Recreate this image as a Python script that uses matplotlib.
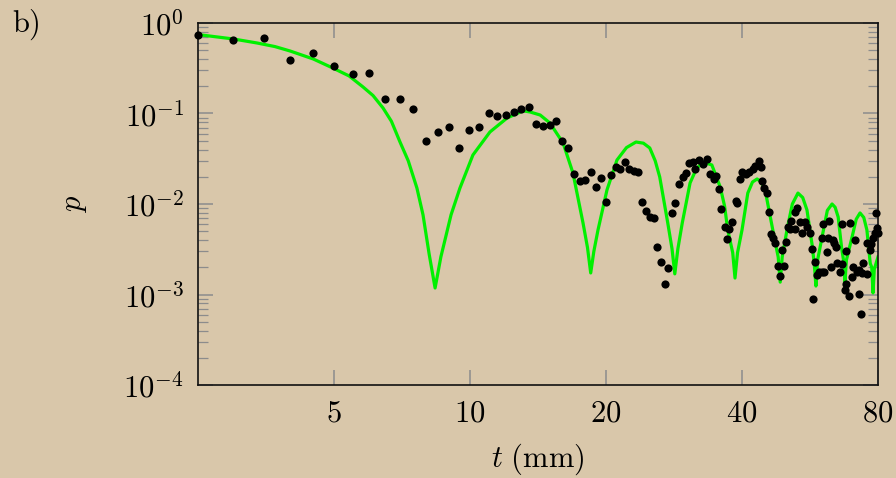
import numpy as np
import matplotlib
matplotlib.use("Agg")
import matplotlib.pyplot as plt
from matplotlib.ticker import FixedLocator, NullLocator, LogLocator

plt.rcParams["mathtext.fontset"] = "cm"

# measured points (t in mm, p)
t_meas = [2.5, 2.99, 3.50, 4.00, 4.50, 5.00, 5.50, 5.99, 6.50, 7.00, 7.49, 7.99,
          8.50, 8.99, 9.47, 9.96, 10.49, 11.0, 11.49, 12.0, 12.5, 13.0, 13.5,
          14.0, 14.5, 15.0, 15.5, 16.0, 16.5, 17.0, 17.5, 18.0, 18.5, 19.0,
          19.5, 20.0, 20.5, 21.0, 21.5, 22.0, 22.5, 23.1, 23.5, 24.0, 24.5,
          25.0, 25.5, 26.0, 26.5, 27.0, 27.5, 28.0, 28.5, 29.0, 29.6, 30.1,
          30.6, 31.2, 31.5, 32.1, 32.8, 33.5, 34.0, 34.6, 35.0, 35.5, 36.0,
          36.6, 37.1, 37.4, 38.0, 38.7, 39.0, 39.5, 40.1, 40.8, 41.5, 42.3,
          42.8, 43.6, 44.0, 44.4, 44.8, 45.5, 46.0, 46.4, 46.9, 47.4, 48.0,
          49.6, 48.6, 49.0, 50.1, 50.6, 51.1, 51.4, 52.4, 53.0, 52.4, 53.7,
          54.2, 55.1, 55.8, 56.6, 57.1, 58.0, 58.5, 59.3, 60.0, 60.7, 57.5,
          60.3, 62.4, 60.0, 62.1, 63.5, 64.0, 64.6, 61.6, 63.0, 65.0, 65.9,
          66.7, 66.5, 68.0, 69.4, 71.2, 68.0, 67.6, 69.0, 70.0, 70.6, 71.8,
          72.8, 74.2, 73.6, 75.5, 72.5, 73.4, 75.5, 76.8, 77.2, 77.9, 78.8,
          79.7, 79.2, 80.0]
p_meas = [0.742, 0.649, 0.678, 0.387, 0.470, 0.335, 0.275, 0.278, 0.1435, 0.1435,
          0.111, 0.050, 0.062, 0.0704, 0.0412, 0.0657, 0.0704, 0.1005, 0.0938,
          0.097, 0.104, 0.111, 0.119, 0.076, 0.0733, 0.0752, 0.082, 0.050,
          0.0416, 0.0216, 0.0178, 0.0184, 0.0226, 0.0155, 0.0195, 0.0106,
          0.0211, 0.0256, 0.0242, 0.0291, 0.0245, 0.0232, 0.0226, 0.0105,
          8.37e-3, 7.24e-3, 7.06e-3, 3.37e-3, 2.30e-3, 1.31e-3, 1.95e-3,
          8.0e-3, 0.0102, 0.0165, 0.0197, 0.0218, 0.0282, 0.0293, 0.0245,
          0.0306, 0.0277, 0.0312, 0.0213, 0.0188, 0.0204, 0.0148, 8.81e-3,
          5.53e-3, 4.14e-3, 5.25e-3, 6.37e-3, 0.0109, 0.0103, 0.0188, 0.0228,
          0.0214, 0.0226, 0.0245, 0.0263, 0.0299, 0.0258, 0.0178, 0.0151,
          0.0133, 8.22e-3, 4.66e-3, 4.18e-3, 3.73e-3, 2.08e-3, 2.08e-3,
          1.60e-3, 3.10e-3, 3.83e-3, 5.53e-3, 5.25e-3, 6.54e-3, 8.22e-3,
          8.96e-3, 5.25e-3, 6.37e-3, 4.74e-3, 6.37e-3, 5.61e-3, 4.74e-3,
          3.16e-3, 2.30e-3, 1.64e-3, 1.79e-3, 1.79e-3, 1.79e-3, 8.85e-4,
          5.97e-3, 6.49e-3, 4.25e-3, 4.25e-3, 4.0e-3, 3.68e-3, 3.32e-3,
          2.97e-3, 2.03e-3, 2.24e-3, 1.79e-3, 2.19e-3, 5.97e-3, 3.05e-3,
          6.12e-3, 4.0e-3, 1.30e-3, 1.12e-3, 9.63e-4, 1.55e-3, 2.03e-3,
          1.79e-3, 1.87e-3, 2.24e-3, 1.74e-3, 1.69e-3, 1.01e-3, 6.04e-4,
          3.68e-3, 3.10e-3, 3.61e-3, 4.18e-3, 4.74e-3, 5.39e-3, 7.89e-3,
          4.74e-3]

# model curve (green)
t_fit = [2.5, 3.0, 3.38, 3.7, 4.0, 4.5, 4.97, 5.4, 5.80, 6.1, 6.42, 6.7, 7.0,
         7.3, 7.63, 7.87, 8.12, 8.37, 8.62, 9.08, 9.50, 10.15, 11.07, 12.08,
         13.1, 13.58, 14.3, 15.03, 16.07, 16.9, 17.79, 18.2, 18.5, 18.8, 19.2,
         20.1, 21.15, 22.2, 23.3, 24.2, 25.0, 25.7, 26.3, 27.4, 28.0, 28.4,
         28.85, 29.5, 30.7, 31.7, 32.8, 34.3, 35.8, 36.6, 37.2, 38.15, 38.6,
         39.1, 40.0, 41.2, 42.2, 43.2, 44.1, 45.0, 46.8, 48.1, 48.6, 49.1,
         50.3, 51.7, 53.2, 54.5, 55.7, 57.2, 57.8, 58.3, 58.8, 60.4, 61.8,
         63.3, 64.3, 65.3, 66.5, 67.1, 67.6, 68.1, 70.1, 71.6, 73.0, 74.4,
         75.6, 76.9, 77.5, 78.0, 78.5, 80.0]
p_fit = [0.745, 0.665, 0.601, 0.549, 0.490, 0.400, 0.318, 0.260, 0.196, 0.158,
         0.115, 0.082, 0.0484, 0.030, 0.0150, 0.0076, 0.0028, 0.00118, 0.0026,
         0.0076, 0.0150, 0.0348, 0.0625, 0.0892, 0.107, 0.104, 0.0962, 0.0785,
         0.0472, 0.0220, 0.00617, 0.0033, 0.00173, 0.0030, 0.00516, 0.0143,
         0.0306, 0.042, 0.0484, 0.047, 0.0416, 0.030, 0.0199, 0.00617, 0.0032,
         0.00169, 0.0032, 0.00617, 0.0171, 0.0245, 0.0291, 0.0270, 0.0154,
         0.0095, 0.00516, 0.0029, 0.00152, 0.0029, 0.00516, 0.0132, 0.0175,
         0.0189, 0.0176, 0.0143, 0.00516, 0.0026, 0.00137, 0.0026, 0.00516,
         0.0100, 0.0132, 0.0118, 0.00859, 0.0035, 0.0022, 0.00124, 0.0024,
         0.00478, 0.0085, 0.0100, 0.0092, 0.00718, 0.0032, 0.0024, 0.00134,
         0.0024, 0.00432, 0.0068, 0.00796, 0.0071, 0.00516, 0.0022, 0.0020,
         0.00104, 0.0019, 0.00260]

x_ticks = [5, 10, 20, 40, 80]
x_labels = [r"$5$", r"$10$", r"$20$", r"$40$", r"$80$"]
y_ticks = [1e-4, 1e-3, 1e-2, 1e-1, 1]
y_labels = [r"$10^{-4}$", r"$10^{-3}$", r"$10^{-2}$", r"$10^{-1}$", r"$10^{0}$"]

bg = "#d9c7aa"
fs = 22

fig = plt.figure(figsize=(8.96, 4.78), dpi=100, facecolor=bg)
ax = fig.add_axes([198 / 896, 1 - 385 / 478, 680 / 896, 362 / 478])
ax.set_facecolor("none")

ax.plot(t_fit, p_fit, color="#00f000", lw=2.3, zorder=2)
ax.plot(t_meas, p_meas, "o", color="black", ms=5.9, mew=0, zorder=3,
        clip_on=False)

ax.set_xscale("log", base=2)
ax.set_yscale("log")
ax.set_xlim(2.5, 80)
ax.set_ylim(1e-4, 1)

ax.xaxis.set_major_locator(FixedLocator(x_ticks))
ax.xaxis.set_minor_locator(NullLocator())
ax.set_xticklabels(x_labels)
ax.yaxis.set_major_locator(FixedLocator(y_ticks))
ax.yaxis.set_minor_locator(LogLocator(base=10, subs=np.arange(2, 10)))
ax.set_yticklabels(y_labels)

ax.tick_params(which="both", direction="in", top=True, right=True,
               color="#8c8c8c", labelsize=fs)
ax.tick_params(which="major", length=11, width=1.1)
ax.tick_params(which="minor", length=7, width=0.9)
ax.tick_params(axis="x", pad=10)
ax.tick_params(axis="y", pad=10)

for sp in ax.spines.values():
    sp.set_linewidth(1.2)
    sp.set_color("#111111")

ax.set_xlabel(r"$t\ (\mathrm{mm})$", fontsize=fs)
ax.xaxis.set_label_coords(0.5, -0.155)
ax.set_ylabel(r"$p$", fontsize=fs)
ax.yaxis.set_label_coords(-0.16, 0.5)

fig.text(12 / 896, 1 - 25 / 478, r"$\mathrm{b)}$", fontsize=fs,
         ha="left", va="center")

fig.savefig("out.png", dpi=100, facecolor=bg)
